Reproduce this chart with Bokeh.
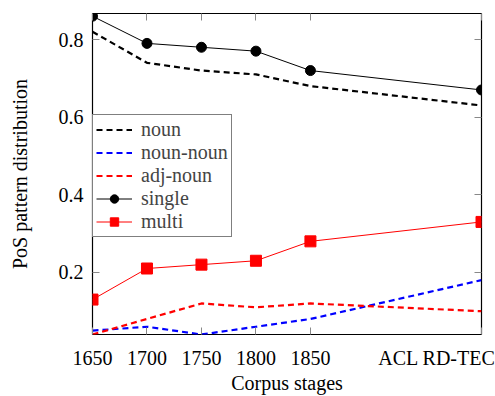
import math
from bokeh.plotting import figure
from bokeh.models import Range1d, FixedTicker, LinearAxis, Legend, LegendItem
from bokeh.embed import file_html
from bokeh.resources import INLINE

# ---- data ----
stage_labels = ["1650", "1700", "1750", "1800", "1850", "ACL RD-TEC"]
stage_x = [1650, 1700, 1750, 1800, 1850, 2007]
noun = [0.82, 0.74, 0.72, 0.71, 0.68, 0.63]
noun_noun = [0.05, 0.06, 0.04, 0.06, 0.08, 0.18]
adj_noun = [0.04, 0.08, 0.12, 0.11, 0.12, 0.10]
single = [0.86, 0.79, 0.78, 0.77, 0.72, 0.67]
multi = [0.13, 0.21, 0.22, 0.23, 0.28, 0.33]
y_ticks = [0.2, 0.4, 0.6, 0.8]
x_title = "Corpus stages"
y_title = "PoS pattern distribution"

FONT = "Liberation Serif"
FS = "20px"
TICK = "#888888"

p = figure(width=495, height=396, output_backend="svg", toolbar_location=None,
           x_range=Range1d(1650, 2007), y_range=Range1d(0.04, 0.867),
           min_border_left=92, min_border_right=14, min_border_top=13, min_border_bottom=10)
p.grid.visible = False
p.outline_line_color = "black"
p.outline_line_width = 1.2
p.background_fill_color = "white"
p.border_fill_color = "white"


def style_ticks_only(ax):
    ax.major_tick_in = 7
    ax.major_tick_out = 0
    ax.minor_tick_in = 0
    ax.minor_tick_out = 0
    ax.axis_line_color = None
    ax.major_tick_line_color = TICK
    ax.major_label_text_font_size = "0px"
    ax.major_label_standoff = 0


def style_text(ax):
    ax.major_label_text_font = FONT
    ax.major_label_text_font_size = FS
    ax.major_label_text_color = "black"
    ax.axis_label_text_font = FONT
    ax.axis_label_text_font_size = FS
    ax.axis_label_text_font_style = "normal"
    ax.axis_label_text_color = "black"


# bottom: tick marks only on the frame edge
xa = p.xaxis[0]
xa.ticker = FixedTicker(ticks=stage_x)
style_ticks_only(xa)

# bottom: stage labels (last one shifted left so it stays on the page)
frame_w = 495 - 92 - 14
px_per_x = frame_w / (stage_x[-1] - stage_x[0])
acl_pos = stage_x[0] + (437 - 92) / px_per_x
label_pos = stage_x[:-1] + [acl_pos]
xl = LinearAxis(ticker=FixedTicker(ticks=label_pos))
xl.major_tick_in = 0
xl.major_tick_out = 0
xl.minor_tick_in = 0
xl.minor_tick_out = 0
xl.axis_line_color = None
xl.major_tick_line_color = None
style_text(xl)
xl.major_label_overrides = {pos: lab for pos, lab in zip(label_pos, stage_labels)}
xl.major_label_standoff = 12
xl.axis_label = x_title
xl.axis_label_standoff = 0
p.add_layout(xl, "below")

# left: tick marks + numeric labels + title
ya = p.yaxis[0]
ya.ticker = FixedTicker(ticks=y_ticks)
ya.major_tick_in = 7
ya.major_tick_out = 0
ya.minor_tick_in = 0
ya.minor_tick_out = 0
ya.axis_line_color = None
ya.major_tick_line_color = TICK
style_text(ya)
ya.major_label_overrides = {t: ("%.1f" % t) for t in y_ticks}
ya.major_label_standoff = 9
ya.axis_label = y_title
ya.axis_label_standoff = 25

# top and right axes with inward ticks
top = LinearAxis(ticker=FixedTicker(ticks=stage_x))
style_ticks_only(top)
right = LinearAxis(ticker=FixedTicker(ticks=y_ticks))
style_ticks_only(right)
p.add_layout(top, "above")
p.add_layout(right, "right")

# series
r_noun = p.line(stage_x, noun, line_color="black", line_width=2.2, line_dash="6 4")
r_nn = p.line(stage_x, noun_noun, line_color="blue", line_width=2.2, line_dash="6 4")
r_an = p.line(stage_x, adj_noun, line_color="red", line_width=2.2, line_dash="6 4")
r_s_l = p.line(stage_x, single, line_color="black", line_width=1)
r_s_m = p.scatter(stage_x, single, marker="circle", size=10, fill_color="black", line_color="black")
r_m_l = p.line(stage_x, multi, line_color="red", line_width=1)
r_m_m = p.scatter(stage_x, multi, marker="square", size=11, fill_color="red", line_color="red")

legend = Legend(items=[
    LegendItem(label="noun", renderers=[r_noun]),
    LegendItem(label="noun-noun", renderers=[r_nn]),
    LegendItem(label="adj-noun", renderers=[r_an]),
    LegendItem(label="single", renderers=[r_s_l, r_s_m]),
    LegendItem(label="multi", renderers=[r_m_l, r_m_m]),
], location=(0, 97))
legend.label_text_font = FONT
legend.label_text_font_size = FS
legend.label_height = 21
legend.glyph_height = 21
legend.glyph_width = 36
legend.label_standoff = 9
legend.spacing = 0
legend.padding = 3
legend.margin = 0
legend.border_line_color = "black"
legend.border_line_width = 1.2
legend.background_fill_alpha = 1
p.add_layout(legend, "center")

open("out.html", "w").write(file_html(p, INLINE))
